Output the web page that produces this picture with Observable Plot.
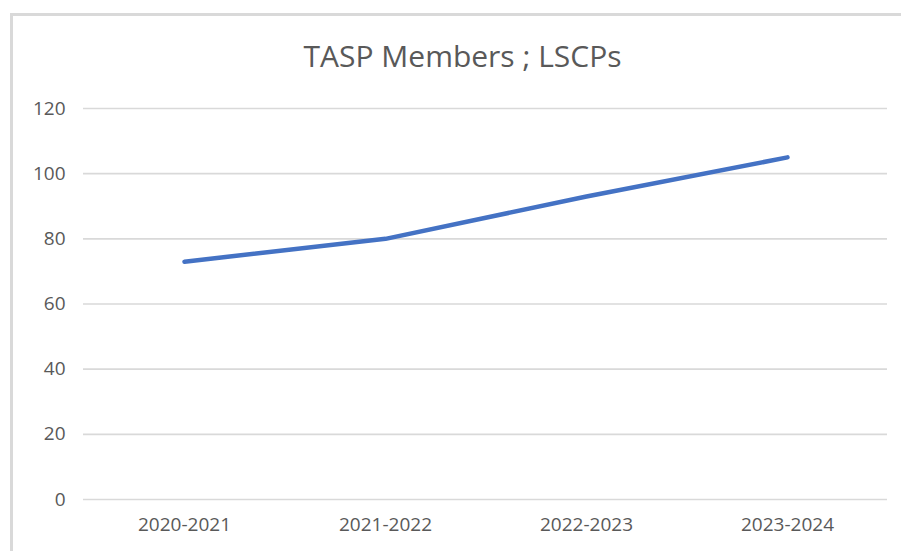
<!DOCTYPE html>
<html>
<head>
<meta charset="utf-8">
<script src="https://cdn.jsdelivr.net/npm/d3@7"></script>
<script src="https://cdn.jsdelivr.net/npm/@observablehq/plot@0.6"></script>
<style>
  html, body { margin: 0; padding: 0; background: #fff; overflow: hidden; }
  #wrap { position: relative; width: 901px; height: 551px; overflow: hidden; font-family: "Open Sans", sans-serif; }
  #frame { position: absolute; left: 10px; top: 13px; width: 1000px; height: 1000px; border: 3px solid #d9d9d9; box-sizing: border-box; }
  #title { position: absolute; left: 0; width: 925px; top: 36px; text-align: center; font-size: 30px; line-height: 40px; color: #595959; white-space: nowrap; }
  #chart { position: absolute; left: 0; top: 0; }
</style>
</head>
<body>
<div id="wrap">
  <div id="frame"></div>
  <div id="title">TASP Members ; LSCPs</div>
  <div id="chart"></div>
</div>
<script>
const years = ["2020-2021", "2021-2022", "2022-2023", "2023-2024"];
const members = [73, 80, 93, 105];
const yTicks = [0, 20, 40, 60, 80, 100, 120];

const data = years.map((y, i) => ({year: y, value: members[i]}));

const plot = Plot.plot({
  width: 901,
  height: 551,
  marginLeft: 83,
  marginRight: 14,
  marginTop: 108,
  marginBottom: 52,
  style: {background: "transparent", fontFamily: "Open Sans, sans-serif", fontSize: "19px", color: "#595959", overflow: "visible"},
  x: {type: "point", domain: years, padding: 0.5, label: null},
  y: {domain: [0, 120], label: null},
  marks: [
    Plot.ruleY(yTicks, {stroke: "#d9d9d9", strokeWidth: 1.6}),
    Plot.axisY({ticks: yTicks, tickSize: 0, tickPadding: 18, label: null, fill: "#595959", fontSize: 19}),
    Plot.axisX({tickSize: 0, tickPadding: 18, label: null, fill: "#595959", fontSize: 19}),
    Plot.line(data, {x: "year", y: "value", stroke: "#4472c4", strokeWidth: 4.5, strokeLinecap: "round", strokeLinejoin: "round"})
  ]
});
document.getElementById("chart").appendChild(plot);
</script>
</body>
</html>
